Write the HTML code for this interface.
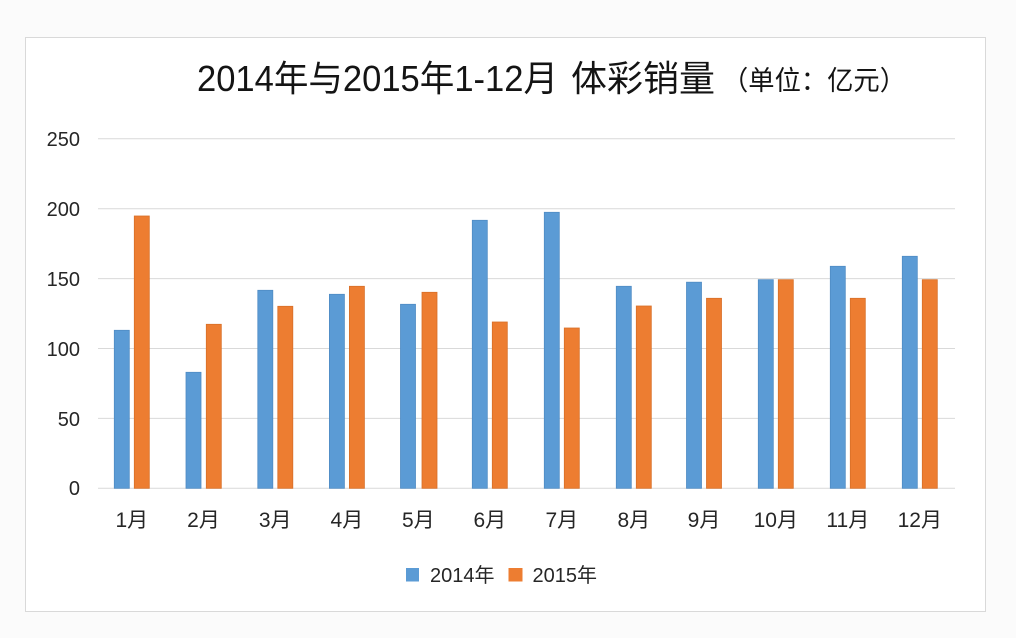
<!DOCTYPE html>
<html><head><meta charset="utf-8"><style>
html,body{margin:0;padding:0;background:#fbfbfb;}
svg{display:block;}
text{font-family:"Liberation Sans","Noto Sans CJK SC",sans-serif;fill:#262626;}
</style></head><body>
<svg width="1016" height="638" viewBox="0 0 1016 638" xmlns="http://www.w3.org/2000/svg">
<rect x="0" y="0" width="1016" height="638" fill="#fbfbfb"/>
<rect x="25.5" y="37.5" width="960" height="574" fill="#ffffff" stroke="#d9d9d9" stroke-width="1"/>
<!-- title -->
<text x="197" y="91" font-size="36" style="fill:#141414" textLength="361" lengthAdjust="spacingAndGlyphs">2014年与2015年1-12月</text>
<text x="571" y="91" font-size="36" style="fill:#141414">体彩销量</text>
<text x="722" y="90" font-size="27" style="fill:#141414" textLength="184" lengthAdjust="spacingAndGlyphs">（单位：亿元）</text>
<!-- gridlines -->
<g stroke="#d9d9d9" stroke-width="1">
<line x1="98" y1="138.8" x2="955" y2="138.8"/>
<line x1="98" y1="208.7" x2="955" y2="208.7"/>
<line x1="98" y1="278.6" x2="955" y2="278.6"/>
<line x1="98" y1="348.5" x2="955" y2="348.5"/>
<line x1="98" y1="418.4" x2="955" y2="418.4"/>
<line x1="98" y1="488.3" x2="955" y2="488.3"/>
</g>
<!-- y labels -->
<g font-size="20" text-anchor="end">
<text x="80" y="146">250</text>
<text x="80" y="216">200</text>
<text x="80" y="286">150</text>
<text x="80" y="356">100</text>
<text x="80" y="426">50</text>
<text x="80" y="495">0</text>
</g>
<!-- bars -->
<g fill="#5B9BD5" stroke="#4f8bc4" stroke-width="0.8">
<rect x="114.3" y="330.3" width="15" height="158"/>
<rect x="186" y="372.3" width="15" height="116"/>
<rect x="257.8" y="290.3" width="15" height="198"/>
<rect x="329.4" y="294.3" width="15" height="194"/>
<rect x="400.5" y="304.3" width="15" height="184"/>
<rect x="472.3" y="220.3" width="15" height="268"/>
<rect x="544.3" y="212.3" width="15" height="276"/>
<rect x="616.3" y="286.3" width="15" height="202"/>
<rect x="686.5" y="282.2" width="15" height="206.1"/>
<rect x="758.3" y="279.7" width="15" height="208.6"/>
<rect x="830.3" y="266.3" width="15" height="222"/>
<rect x="902.3" y="256.3" width="15" height="232"/>
</g>
<g fill="#ED7D31" stroke="#d86f28" stroke-width="0.8">
<rect x="134.3" y="216" width="15" height="272.3"/>
<rect x="206.3" y="324.3" width="15" height="164"/>
<rect x="277.8" y="306.3" width="15" height="182"/>
<rect x="349.4" y="286.3" width="15" height="202"/>
<rect x="422" y="292.3" width="15" height="196"/>
<rect x="492.3" y="322" width="15" height="166.3"/>
<rect x="564.3" y="328" width="15" height="160.3"/>
<rect x="636.3" y="306" width="15" height="182.3"/>
<rect x="706.5" y="298.3" width="15" height="190"/>
<rect x="778.3" y="279.7" width="15" height="208.6"/>
<rect x="850.3" y="298.3" width="15" height="190"/>
<rect x="922.3" y="279.7" width="15" height="208.6"/>
</g>
<!-- x labels -->
<g font-size="21" text-anchor="middle">
<text x="131.8" y="527">1月</text>
<text x="203.5" y="527">2月</text>
<text x="275.2" y="527">3月</text>
<text x="346.9" y="527">4月</text>
<text x="418.3" y="527">5月</text>
<text x="489.8" y="527">6月</text>
<text x="561.8" y="527">7月</text>
<text x="633.8" y="527">8月</text>
<text x="704" y="527">9月</text>
<text x="775.8" y="527">10月</text>
<text x="847.8" y="527">11月</text>
<text x="919.8" y="527">12月</text>
</g>
<!-- legend -->
<rect x="406" y="568" width="13" height="13.5" fill="#5B9BD5"/>
<text x="430" y="582" font-size="20">2014年</text>
<rect x="508.5" y="568" width="14" height="13.5" fill="#ED7D31"/>
<text x="532.5" y="582" font-size="20">2015年</text>
</svg>
</body></html>
